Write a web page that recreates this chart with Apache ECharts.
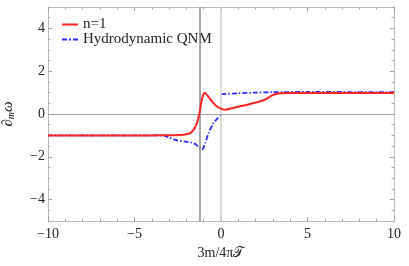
<!DOCTYPE html>
<html><head><meta charset="utf-8">
<script src="https://cdn.jsdelivr.net/npm/echarts@6/dist/echarts.min.js"></script>
<style>html,body{margin:0;padding:0;background:#fff}#c{width:409px;height:266px}</style>
</head><body><div id="c"></div>
<script>
var redX = [-10, -4, -3, -2.35, -2, -1.77, -1.58, -1.45, -1.39, -1.3, -1.24, -1.15, -1.05, -0.95, -0.85, -0.7, -0.52, -0.3, -0.04, 0.25, 0.7, 1.5, 2.46, 2.75, 3.04, 3.43, 4, 10];
var redY = [-1, -1, -0.99, -0.98, -0.95, -0.89, -0.73, -0.55, -0.42, -0.15, 0.05, 0.5, 0.85, 0.98, 0.93, 0.78, 0.59, 0.4, 0.26, 0.2, 0.28, 0.43, 0.64, 0.77, 0.9, 0.97, 0.98, 0.98];
var blueX = [-10, -4, -3.32, -3, -2.54, -2, -1.68, -1.45, -1.29, -1.1, -0.91, -0.72, -0.43, -0.2, -0.02, 0, 0.02, 1, 2, 3, 5, 10];
var blueY = [-1, -1, -1.01, -1.1, -1.23, -1.3, -1.34, -1.42, -1.54, -1.67, -1.36, -0.89, -0.42, -0.2, -0.03, null, 0.93, 0.97, 1.0, 1.02, 1.03, 1.02];
var vLines = [-1.23, 0];
var yMajor = [-4, -2, 0, 2, 4];
var seriesNames = ['n=1', 'Hydrodynamic QNM'];

function pairs(xs, ys) { return xs.map(function (x, i) { return [x, ys[i] === null ? '-' : ys[i]]; }); }
function fmt(v) { return v < 0 ? '\u2212' + Math.abs(v) : String(v); }

var F = 'Liberation Serif';
var frame = { show: true, onZero: false, lineStyle: { color: '#b8b8b8', width: 1 } };
var chart = echarts.init(document.getElementById('c'));
function xAx(pos, lbl) {
  return { type: 'value', position: pos, min: -10, max: 10, interval: 5,
    axisLine: frame,
    axisTick: { inside: true, length: 4, lineStyle: { color: '#999' } },
    minorTick: { show: true, splitNumber: 5, length: 2.5, lineStyle: { color: '#aaa' } },
    axisLabel: { show: lbl, fontFamily: F, fontSize: 14, color: '#222', margin: 6, formatter: fmt },
    splitLine: { show: false },
    name: lbl ? '3m/4\u03c0\ud835\udcaf' : '', nameLocation: 'middle', nameGap: 16,
    nameTextStyle: { fontFamily: F, fontSize: 14, color: '#222' } };
}
function yMain(pos, lbl) {
  return { type: 'value', position: pos, min: -5, max: 5,
    axisLine: frame,
    axisTick: { inside: true, length: 4, customValues: yMajor, lineStyle: { color: '#999' } },
    axisLabel: { show: lbl, customValues: yMajor, fontFamily: F, fontSize: 14, color: '#222', margin: 3, formatter: fmt },
    splitLine: { show: false },
    name: lbl ? '{i|\u2202}{s|m}{i|\u03c9}' : '', nameLocation: 'middle', nameGap: 32, nameRotate: 90,
    nameTextStyle: { rich: { i: { fontFamily: F, fontStyle: 'italic', fontSize: 15, color: '#222' }, s: { fontFamily: F, fontStyle: 'italic', fontSize: 10, color: '#222', verticalAlign: 'bottom', padding: [6, 0, 0, 0] } } } };
}
function yMinor(pos) {
  return { type: 'value', position: pos, min: -5, max: 5, interval: 0.5,
    axisLine: { show: false, onZero: false },
    axisTick: { inside: true, length: 2.5, lineStyle: { color: '#aaa' } },
    axisLabel: { show: false }, splitLine: { show: false } };
}
chart.setOption({
  animation: false,
  grid: { left: 48, right: 15, top: 7, bottom: 45, containLabel: false, outerBoundsMode: 'none' },
  legend: { left: 62, top: 17, padding: 0, orient: 'vertical', itemWidth: 16, itemHeight: 2, itemGap: 0,
    symbolKeepAspect: false,
    textStyle: { fontFamily: F, fontSize: 15, color: '#222', lineHeight: 14 },
    data: [
      { name: seriesNames[0], icon: 'path://M0,0h16v2h-16z' },
      { name: seriesNames[1], icon: 'path://M0,0h5v2h-5z M7,0h2v2h-2z M11,0h5v2h-5z' }
    ] },
  xAxis: [xAx('bottom', true), xAx('top', false)],
  yAxis: [yMain('left', true), yMain('right', false), yMinor('left'), yMinor('right')],
  series: [
    { name: seriesNames[0], type: 'line', data: pairs(redX, redY), smooth: 0.25, symbol: 'none', z: 5,
      lineStyle: { color: '#ff2222', width: 2 }, itemStyle: { color: '#ff2222' },
      markLine: { silent: true, symbol: 'none', label: { show: false },
        data: [
          { xAxis: vLines[0], lineStyle: { color: '#8a8a8a', width: 1.5, type: 'solid' } },
          { xAxis: vLines[1], lineStyle: { color: '#cfcfcf', width: 1.5, type: 'solid' } },
          { yAxis: 0, lineStyle: { color: '#a0a0a0', width: 1, type: 'solid' } }
        ] } },
    { name: seriesNames[1], type: 'line', data: pairs(blueX, blueY), smooth: 0.25, symbol: 'none', z: 4,
      connectNulls: false,
      lineStyle: { color: '#2a2aff', width: 1.8, type: [5, 2, 1.5, 2] }, itemStyle: { color: '#2a2aff' } }
  ]
});
</script></body></html>
